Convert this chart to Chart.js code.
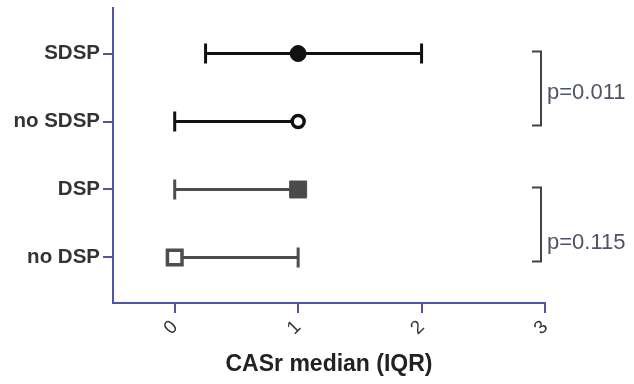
<!DOCTYPE html>
<html>
<head>
<meta charset="utf-8">
<script src="https://cdn.jsdelivr.net/npm/chart.js@4.4.1/dist/chart.umd.min.js"></script>
<style>
  html, body { margin: 0; padding: 0; background: #fff; }
  #wrap { width: 634px; height: 384px; }
</style>
</head>
<body>
<div id="wrap"><canvas id="chart"></canvas></div>
<script>
// rows, top to bottom
const categories = ['SDSP', 'no SDSP', 'DSP', 'no DSP'];
const medians = [1, 1, 1, 0];
const q1 = [0.25, 0, 0, 0];
const q3 = [2, 1, 1, 1];
const xTicks = [0, 1, 2, 3];
const xLabel = 'CASr median (IQR)';
// comparisons: pairs of row indexes and their p values
const pairs = [[0, 1], [2, 3]];
const pValues = ['p=0.011', 'p=0.115'];

const axisColor = '#4f54a6';
const rowColors = ['#111111', '#111111', '#4d4d4d', '#4d4d4d'];

// row i sits at y = n - i so the first category is on top
const rowY = i => categories.length - i;

const iqrBars = {
    id: 'iqrBars',
    beforeDatasetsDraw(chart) {
        const ctx = chart.ctx;
        const xs = chart.scales.x, ys = chart.scales.y;
        ctx.save();
        ctx.lineWidth = 3;
        categories.forEach((c, i) => {
            const y = ys.getPixelForValue(rowY(i));
            const x1 = xs.getPixelForValue(q1[i]);
            const x2 = xs.getPixelForValue(q3[i]);
            ctx.strokeStyle = rowColors[i];
            ctx.beginPath();
            ctx.moveTo(x1, y); ctx.lineTo(x2, y);
            // caps only where the marker does not cover the end
            [q1[i], q3[i]].forEach((q, j) => {
                if (q === medians[i]) return;
                const cx = j ? x2 : x1;
                ctx.moveTo(cx, y - 10); ctx.lineTo(cx, y + 10);
            });
            ctx.stroke();
        });
        ctx.restore();
    }
};

const brackets = {
    id: 'brackets',
    afterDraw(chart) {
        const ctx = chart.ctx;
        const ys = chart.scales.y;
        const bx = chart.chartArea.right - 4;
        const textShift = [4, 18];
        ctx.save();
        pairs.forEach((p, k) => {
            const top = ys.getPixelForValue(rowY(p[0])) - 2;
            const bottom = ys.getPixelForValue(rowY(p[1])) + 4;
            ctx.strokeStyle = '#444';
            ctx.lineWidth = 2;
            ctx.beginPath();
            ctx.moveTo(bx - 9, top); ctx.lineTo(bx, top);
            ctx.lineTo(bx, bottom); ctx.lineTo(bx - 9, bottom);
            ctx.stroke();
            ctx.fillStyle = '#4f5368';
            ctx.font = '22px "Liberation Sans", Arial, sans-serif';
            ctx.textAlign = 'left';
            ctx.textBaseline = 'middle';
            ctx.fillText(pValues[k], bx + 6, (top + bottom) / 2 + textShift[k]);
        });
        ctx.restore();
    }
};

new Chart(document.getElementById('chart'), {
    type: 'scatter',
    data: {
        datasets: [{
            data: categories.map((c, i) => ({ x: medians[i], y: rowY(i) })),
            pointStyle: ['circle', 'circle', 'rect', 'rect'],
            backgroundColor: ['#111111', '#ffffff', '#4a4a4a', '#ffffff'],
            borderColor: rowColors,
            borderWidth: [1, 3.5, 1, 3.5],
            pointRadius: [8, 6, 12, 10.3],
            pointHoverRadius: [8, 6, 12, 10.3]
        }]
    },
    options: {
        responsive: true,
        maintainAspectRatio: false,
        animation: false,
        layout: { autoPadding: false, padding: { top: 8, right: 89, bottom: 6, left: 0 } },
        plugins: { legend: { display: false }, tooltip: { enabled: false } },
        scales: {
            x: {
                type: 'linear',
                min: -0.5,
                max: 3,
                afterBuildTicks: s => { s.ticks = xTicks.map(v => ({ value: v })); },
                afterFit: s => { s.height = 75; s.paddingLeft = 0; s.paddingRight = 0; },
                grid: { drawOnChartArea: false, color: axisColor, lineWidth: 2, tickLength: 10 },
                border: { color: axisColor, width: 2 },
                ticks: {
                    minRotation: 45,
                    maxRotation: 45,
                    padding: 3,
                    color: '#333',
                    font: { family: '"Liberation Sans", Arial, sans-serif', size: 19 }
                },
                title: {
                    display: true,
                    text: xLabel,
                    color: '#222',
                    padding: { top: 7, bottom: 0 },
                    font: { family: '"Liberation Sans", Arial, sans-serif', size: 23, weight: 'bold' }
                }
            },
            y: {
                type: 'linear',
                min: 0.33,
                max: 4.67,
                afterBuildTicks: s => { s.ticks = categories.map((c, i) => ({ value: rowY(i) })); },
                afterFit: s => { s.width = 113; s.paddingTop = 0; s.paddingBottom = 0; },
                grid: { drawOnChartArea: false, color: axisColor, lineWidth: 2, tickLength: 10 },
                border: { color: axisColor, width: 2 },
                ticks: {
                    padding: 3,
                    color: '#333',
                    font: { family: '"Liberation Sans", Arial, sans-serif', size: 20.5, weight: 'bold', lineHeight: 0.6 },
                    callback: v => categories[categories.length - v]
                }
            }
        }
    },
    plugins: [iqrBars, brackets]
});
</script>
</body>
</html>
